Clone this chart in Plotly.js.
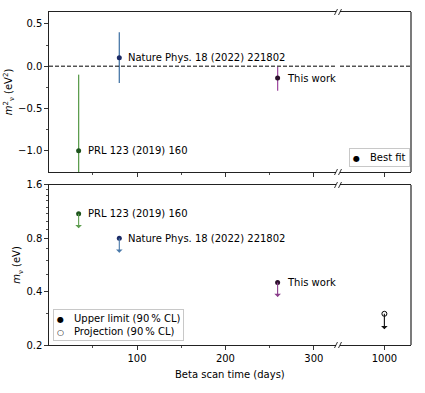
<!DOCTYPE html>
<html>
<head>
<meta charset="utf-8">
<script src="https://cdn.plot.ly/plotly-3.0.1.min.js"></script>
<style>html,body{margin:0;padding:0;background:#fff}#plot{width:425px;height:393px}</style>
</head>
<body>
<div id="plot"></div>
<script>
// ---- data ----
var labels = ["PRL 123 (2019) 160", "Nature Phys. 18 (2022) 221802", "This work"];
var scanDays = [34, 80, 259];
var m2Best = [-1.0, 0.1, -0.14];
var m2ErrPlus = [0.9, 0.3, 0.13];
var m2ErrMinus = [1.1, 0.3, 0.15];
var mUpper = [1.1, 0.8, 0.45];
var projDays = [1000];
var projLimit = [0.3];
var barColors = ["#5d9d4f", "#4a79a9", "#a14ea2"];
var dotColors = ["#1d531d", "#1b2a66", "#2a0f2a"];
var arrowColors = ["#5d9d4f", "#4a79a9", "#8a3d8b"];
var yTopTicks = [-1.0, -0.5, 0.0, 0.5];
var yBotTicks = [0.2, 0.4, 0.8, 1.6];
var xLeftTicks = [100, 200, 300];
var xRightTicks = [1000];
var legendTop = ["Best fit"];
var legendBottom = ["Upper limit (90\u2009% CL)", "Projection (90\u2009% CL)"];

var F = "DejaVu Sans, Liberation Sans, sans-serif";
var traces = [];
for (var i = 0; i < labels.length; i++) {
  traces.push({
    type: "scatter", mode: "markers", xaxis: "x3", yaxis: "y", name: labels[i],
    x: [scanDays[i]], y: [m2Best[i]], showlegend: false,
    marker: {size: 5, color: dotColors[i]},
    error_y: {type: "data", symmetric: false, array: [m2ErrPlus[i]], arrayminus: [m2ErrMinus[i]],
      color: barColors[i], thickness: 1.3, width: 0}
  });
  traces.push({
    type: "scatter", mode: "markers", xaxis: "x", yaxis: "y2", name: labels[i],
    x: [scanDays[i]], y: [mUpper[i]], showlegend: false,
    marker: {size: 5, color: dotColors[i]}
  });
}
traces.push({
  type: "scatter", mode: "markers", xaxis: "x2", yaxis: "y2", name: "Projection",
  x: projDays, y: projLimit, showlegend: false,
  marker: {size: 5, color: "#fff", symbol: "circle", line: {color: "#000", width: 1}}
});
// empty trace so the top-right panel exists as a subplot
traces.push({type: "scatter", mode: "markers", xaxis: "x4", yaxis: "y", x: [], y: [], showlegend: false, hoverinfo: "skip"});

var ann = [];
for (var i = 0; i < labels.length; i++) {
  ann.push({xref: "x3", yref: "y", x: scanDays[i], y: m2Best[i], text: labels[i], showarrow: false,
    xanchor: "left", yanchor: "middle", xshift: 7, font: {family: F, size: 10, color: "#000"}});
  ann.push({xref: "x", yref: "y2", x: scanDays[i], y: Math.log10(mUpper[i]), text: labels[i], showarrow: false,
    xanchor: "left", yanchor: "middle", xshift: 7, font: {family: F, size: 10, color: "#000"}});
  ann.push({xref: "x", yref: "y2", x: scanDays[i], y: Math.log10(mUpper[i]), text: "", showarrow: true,
    arrowside: "start", ax: 0, ay: 16, arrowhead: 2, arrowsize: 1, arrowwidth: 1.1,
    arrowcolor: arrowColors[i]});
}
ann.push({xref: "x2", yref: "y2", x: projDays[0], y: Math.log10(projLimit[0]), text: "", showarrow: true,
  arrowside: "start", ax: 0, ay: 17, arrowhead: 2, arrowsize: 1, arrowwidth: 1.1, arrowcolor: "#111"});
ann.push({xref: "paper", yref: "paper", x: 0.5, y: -0.09, text: "Beta scan time (days)", showarrow: false,
  xanchor: "center", yanchor: "middle", font: {family: F, size: 10, color: "#000"}});
// legends (drawn as bordered text boxes)
ann.push({xref: "paper", yref: "paper", x: 0.997, y: 0.535, xanchor: "right", yanchor: "bottom",
  showarrow: false, align: "left", text: "<span style='font-size:8px'>\u25cf</span>\u2002\u2002" + legendTop[0],
  bgcolor: "#fff", bordercolor: "#c8c8c8", borderwidth: 1, borderpad: 3,
  font: {family: F, size: 10, color: "#000"}});
ann.push({xref: "paper", yref: "paper", x: 0.011, y: 0.012, xanchor: "left", yanchor: "bottom",
  showarrow: false, align: "left",
  text: "<span style='font-size:8px'>\u25cf</span>\u2002\u2002" + legendBottom[0] + "<br><span style='font-size:8px'>\u25cb</span>\u2002\u2002" + legendBottom[1],
  bgcolor: "#fff", bordercolor: "#c8c8c8", borderwidth: 1, borderpad: 3,
  font: {family: F, size: 10, color: "#000"}});

var L0 = 0.7928, R0 = 0.8039, topLo = 0.5195, botHi = 0.4805;
var shapes = [
  {type: "line", xref: "x3 domain", x0: 0, x1: 1, yref: "y", y0: 0, y1: 0, line: {color: "#000", width: 1, dash: "4px,2px"}},
  {type: "line", xref: "x4 domain", x0: 0, x1: 1, yref: "y", y0: 0, y1: 0, line: {color: "#000", width: 1, dash: "4px,2px"}},
  {type: "line", xref: "paper", x0: 1, x1: 1, yref: "paper", y0: topLo, y1: 1, line: {color: "#222", width: 1.2}},
  {type: "line", xref: "paper", x0: 1, x1: 1, yref: "paper", y0: 0, y1: botHi, line: {color: "#222", width: 1.2}}
];
[1, topLo, botHi, 0].forEach(function (yy) {
  [L0, R0].forEach(function (xx) {
    shapes.push({type: "line", xref: "paper", yref: "paper", xsizemode: "pixel", ysizemode: "pixel",
      xanchor: xx, yanchor: yy, x0: -1.5, x1: 1.5, y0: -3, y1: 3, line: {color: "#000", width: 0.8}});
  });
});

function xax(domain, range, tickvals, anchor, showLabels, minorVals) {
  return {
    domain: domain, range: range, anchor: anchor, showgrid: false, zeroline: false,
    showline: true, mirror: true, linecolor: "#222", linewidth: 1.2,
    ticks: "outside", ticklen: 3.5, tickwidth: 0.8, tickcolor: "#000",
    tickmode: "array", tickvals: tickvals, ticktext: tickvals.map(String),
    showticklabels: showLabels, tickfont: {family: F, size: 10, color: "#000"},
    minor: minorVals ? {ticks: "outside", ticklen: 2, tickwidth: 0.7, tickcolor: "#000", tickvals: minorVals} : undefined
  };
}

var layout = {
  width: 425, height: 393,
  margin: {l: 49, r: 14, t: 12, b: 48},
  paper_bgcolor: "#fff", plot_bgcolor: "#fff",
  font: {family: F, size: 10, color: "#000"},
  showlegend: false,
  xaxis: xax([0, L0], [0.5, 325], xLeftTicks, "y2", true, [50, 150, 250]),
  xaxis2: xax([R0, 1], [950, 1030], xRightTicks, "y2", true, null),
  xaxis3: xax([0, L0], [0.5, 325], xLeftTicks, "y", false, [50, 150, 250]),
  xaxis4: xax([R0, 1], [950, 1030], xRightTicks, "y", false, null),
  yaxis: {
    domain: [topLo, 1], range: [-1.25, 0.64], anchor: "x3", showgrid: false, zeroline: false,
    showline: true, linecolor: "#222", linewidth: 1.2,
    ticks: "outside", ticklen: 3.5, tickwidth: 0.8, tickcolor: "#000",
    tickmode: "array", tickvals: yTopTicks, ticktext: yTopTicks.map(function (v) { return v.toFixed(1).replace("-", "\u2212"); }),
    tickfont: {family: F, size: 10},
    minor: {ticks: "outside", ticklen: 2, tickwidth: 0.7, tickcolor: "#000", tickvals: [-0.75, -0.25, 0.25]},
    title: {text: "<i>m</i><sup>2</sup><sub>\u03bd</sub> (eV<sup>2</sup>)", font: {family: F, size: 10}, standoff: 3}
  },
  yaxis2: {
    domain: [0, botHi], type: "log", range: [Math.log10(0.2), Math.log10(1.6)], anchor: "x",
    showgrid: false, zeroline: false, showline: true, linecolor: "#222", linewidth: 1.2,
    ticks: "outside", ticklen: 3.5, tickwidth: 0.8, tickcolor: "#000",
    tickmode: "array", tickvals: yBotTicks, ticktext: yBotTicks.map(function (v) { return v.toFixed(1); }),
    tickfont: {family: F, size: 10},
    minor: {ticks: "outside", ticklen: 2, tickwidth: 0.7, tickcolor: "#000",
      tickvals: [0.3, 0.5, 0.6, 0.7, 0.9, 1.0, 1.1, 1.2, 1.3, 1.4, 1.5]},
    title: {text: "<i>m</i><sub>\u03bd</sub> (eV)", font: {family: F, size: 10}, standoff: 3}
  },
  annotations: ann,
  shapes: shapes
};
Plotly.newPlot("plot", traces, layout, {displayModeBar: false, staticPlot: true});
</script>
</body>
</html>
